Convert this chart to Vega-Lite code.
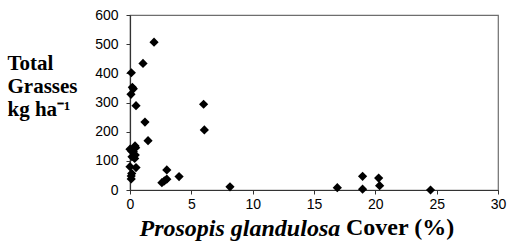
{
  "$schema": "https://vega.github.io/schema/vega-lite/v6.json",
  "width": 368,
  "height": 175,
  "autosize": "none",
  "padding": {"left": 130, "top": 15, "right": 10, "bottom": 57},
  "background": "white",
  "config": {
    "view": {"stroke": "#6e6e6e", "strokeWidth": 1.2},
    "axis": {
      "grid": false,
      "domainColor": "#333333",
      "domainWidth": 1.2,
      "tickColor": "#333333",
      "tickSize": 4,
      "labelFont": "Liberation Sans",
      "labelFontSize": 14,
      "labelColor": "black",
      "titleFont": "Liberation Serif",
      "titleFontWeight": "bold",
      "titleColor": "black"
    },
    "title": {"font": "Liberation Serif", "fontWeight": "bold", "color": "black"}
  },
  "title": {
    "text": "Cover (%)",
    "orient": "bottom",
    "anchor": "start",
    "frame": "group",
    "font": "Liberation Serif",
    "fontSize": 24,
    "fontWeight": "bold",
    "color": "black",
    "baseline": "alphabetic",
    "dx": 216,
    "dy": -5,
    "offset": 0
  },
  "data": {
    "values": [
      {"cover": 1.96, "grass": 507},
      {"cover": 1.06, "grass": 434},
      {"cover": 0.11, "grass": 402},
      {"cover": 0.19, "grass": 352},
      {"cover": 0.27, "grass": 347},
      {"cover": 0.08, "grass": 328},
      {"cover": 0.49, "grass": 289},
      {"cover": 1.22, "grass": 233},
      {"cover": 1.47, "grass": 169},
      {"cover": 0.0, "grass": 140},
      {"cover": 0.41, "grass": 151},
      {"cover": 0.46, "grass": 145},
      {"cover": 0.27, "grass": 131},
      {"cover": 0.14, "grass": 133},
      {"cover": 0.43, "grass": 120},
      {"cover": 0.16, "grass": 114},
      {"cover": 0.38, "grass": 108},
      {"cover": 0.0, "grass": 80},
      {"cover": 0.49, "grass": 77},
      {"cover": 0.14, "grass": 57},
      {"cover": 0.1, "grass": 48},
      {"cover": 0.1, "grass": 38},
      {"cover": 2.6, "grass": 25},
      {"cover": 2.8, "grass": 31},
      {"cover": 3.0, "grass": 37},
      {"cover": 3.0, "grass": 69},
      {"cover": 4.0, "grass": 46},
      {"cover": 6.0, "grass": 294},
      {"cover": 6.06, "grass": 206},
      {"cover": 8.15, "grass": 11},
      {"cover": 16.9, "grass": 8},
      {"cover": 18.96, "grass": 47},
      {"cover": 18.96, "grass": 3},
      {"cover": 20.27, "grass": 41},
      {"cover": 20.35, "grass": 15},
      {"cover": 24.5, "grass": 0}
    ]
  },
  "mark": {"type": "point", "shape": "diamond", "filled": true, "color": "black", "opacity": 1, "size": 85},
  "encoding": {
    "x": {
      "field": "cover",
      "type": "quantitative",
      "scale": {"domain": [0, 30], "nice": false, "zero": false},
      "axis": {
        "values": [0, 5, 10, 15, 20, 25, 30],
        "labelPadding": 3,
        "labelFlush": false,
        "title": "Prosopis glandulosa",
        "titleFontStyle": "italic",
        "titleFontSize": 24,
        "titleAlign": "left",
        "titleAnchor": null,
        "titleBaseline": "alphabetic",
        "titleX": 9,
        "titleY": 45
      }
    },
    "y": {
      "field": "grass",
      "type": "quantitative",
      "scale": {"domain": [0, 600], "nice": false},
      "axis": {
        "values": [0, 100, 200, 300, 400, 500, 600],
        "labelPadding": 8,
        "labelFlush": false,
        "title": ["Total", "Grasses", "kg ha⁻¹"],
        "titleFontSize": 21,
        "titleAngle": 0,
        "titleAlign": "left",
        "titleBaseline": "alphabetic",
        "titleLineHeight": 23,
        "titleX": -123,
        "titleY": 54
      }
    }
  }
}
